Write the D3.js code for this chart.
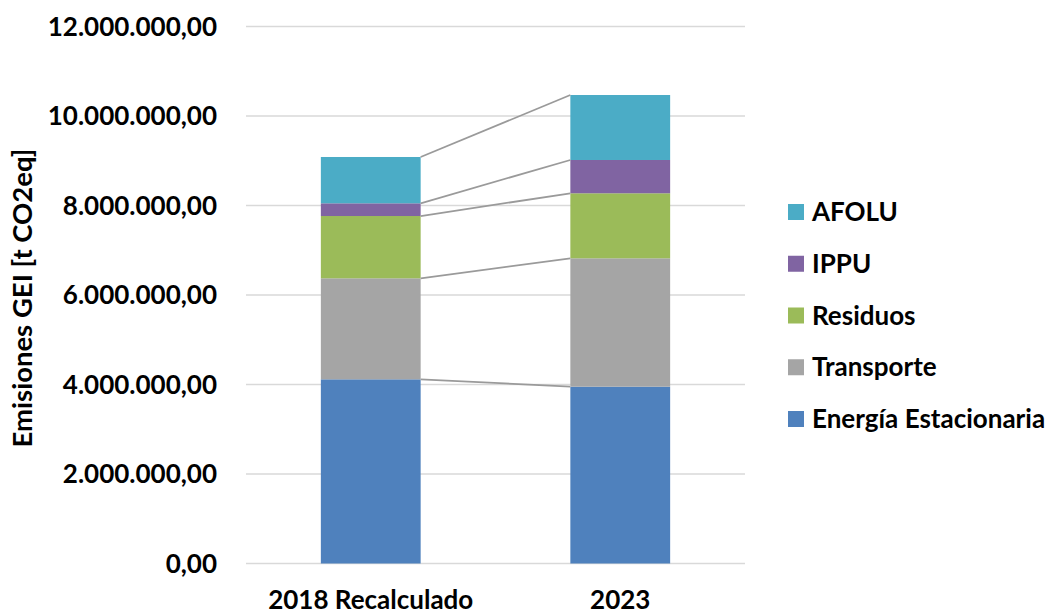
<!DOCTYPE html>
<html>
<head>
<meta charset="utf-8">
<script src="https://cdn.jsdelivr.net/npm/d3@7.9.0/dist/d3.min.js"></script>
<style>
  body { margin: 0; background: #fff; }
  svg text { font-family: Lato, "Open Sans", sans-serif; font-weight: bold; fill: #000; }
</style>
</head>
<body>
<svg width="1059" height="613"></svg>
<script>
// categories on the x axis
const years = ['2018 Recalculado', '2023'];

// series, bottom to top of the stack
const sectors = ['Energía Estacionaria', 'Transporte', 'Residuos', 'IPPU', 'AFOLU'];
const colors = ['#4f81bd', '#a5a5a5', '#9bbb59', '#8064a2', '#4bacc6'];

// emissions per sector [t CO2eq], one value per year
const energia = [4116000, 3951000];
const transporte = [2257000, 2869000];
const residuos = [1392000, 1453000];
const ippu = [284000, 744000];
const afolu = [1035000, 1452000];

const yTicks = [0, 2000000, 4000000, 6000000, 8000000, 10000000, 12000000];

const svg = d3.select('svg');
const margin = { top: 26.5, left: 246, right: 314, bottom: 49.5 };
const width = 1059 - margin.left - margin.right;
const height = 613 - margin.top - margin.bottom;

const g = svg.append('g').attr('transform', `translate(${margin.left},${margin.top})`);

// build rows for d3.stack
const seriesValues = [energia, transporte, residuos, ippu, afolu];
const rows = years.map((yr, i) => {
  const row = { year: yr };
  sectors.forEach((s, j) => { row[s] = seriesValues[j][i]; });
  return row;
});
const stacked = d3.stack().keys(sectors)(rows);

const x = d3.scaleBand().domain(years).range([0, width]).paddingInner(0.6).paddingOuter(0.3);
const y = d3.scaleLinear().domain([0, 12000000]).range([height, 0]);

// number format like 12.000.000,00
const locale = d3.formatLocale({ decimal: ',', thousands: '.', grouping: [3], currency: ['', ''] });
const fmt = locale.format(',.2f');

// gridlines
g.append('g')
  .selectAll('line')
  .data(yTicks)
  .join('line')
  .attr('x1', 0).attr('x2', width)
  .attr('y1', d => y(d)).attr('y2', d => y(d))
  .attr('stroke', '#d9d9d9')
  .attr('stroke-width', 1.5);

// y tick labels
g.append('g')
  .selectAll('text')
  .data(yTicks)
  .join('text')
  .attr('x', -29)
  .attr('y', d => y(d))
  .attr('dy', '0.35em')
  .attr('text-anchor', 'end')
  .style('font-size', '26px')
  .text(d => fmt(d));

// bars
g.append('g')
  .selectAll('g')
  .data(stacked)
  .join('g')
  .attr('fill', (d, i) => colors[i])
  .selectAll('rect')
  .data(d => d)
  .join('rect')
  .attr('x', d => x(d.data.year))
  .attr('width', x.bandwidth())
  .attr('y', d => y(d[1]))
  .attr('height', d => y(d[0]) - y(d[1]));

// series lines between bar tops
g.append('g')
  .selectAll('line')
  .data(stacked)
  .join('line')
  .attr('x1', x(years[0]) + x.bandwidth())
  .attr('x2', x(years[1]))
  .attr('y1', d => y(d[0][1]))
  .attr('y2', d => y(d[1][1]))
  .attr('stroke', '#9a9a9a')
  .attr('stroke-width', 1.75);

// x labels
g.append('g')
  .selectAll('text')
  .data(years)
  .join('text')
  .attr('x', d => x(d) + x.bandwidth() / 2)
  .attr('y', height + 45)
  .attr('text-anchor', 'middle')
  .style('font-size', '26px')
  .text(d => d);

// y axis title
svg.append('text')
  .attr('transform', `translate(32,298) rotate(-90)`)
  .attr('text-anchor', 'middle')
  .style('font-size', '27.5px')
  .text('Emisiones GEI [t CO2eq]');

// legend, top series first
const legendItems = sectors.map((s, i) => ({ name: s, color: colors[i] })).reverse();
const legend = svg.append('g').attr('transform', 'translate(788,212)');
const item = legend.selectAll('g')
  .data(legendItems)
  .join('g')
  .attr('transform', (d, i) => `translate(0,${i * 51.75})`);
item.append('rect')
  .attr('x', 0).attr('y', -8)
  .attr('width', 16).attr('height', 16)
  .attr('fill', d => d.color);
item.append('text')
  .attr('x', 24)
  .attr('dy', '0.35em')
  .style('font-size', '26px')
  .text(d => d.name);
</script>
</body>
</html>
